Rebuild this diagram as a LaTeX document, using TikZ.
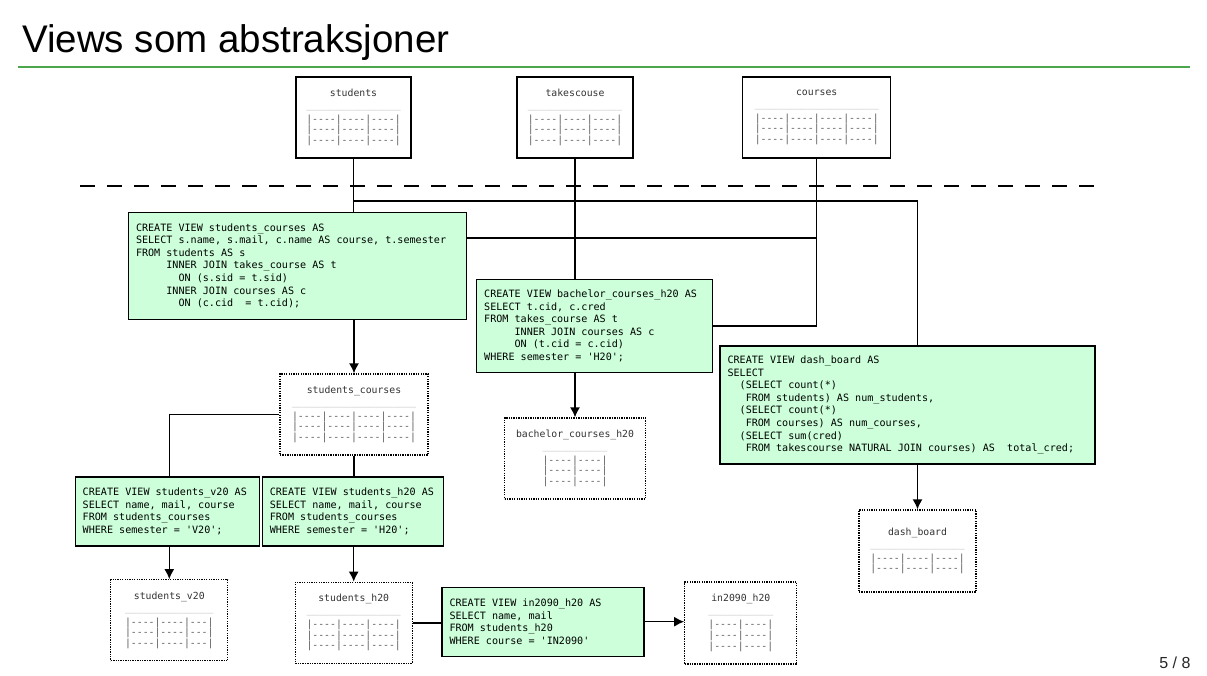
\documentclass[tikz,border=0pt]{standalone}
\usepackage{fontspec}
\setmainfont{Liberation Sans}
\setmonofont{DejaVu Sans Mono}
\usetikzlibrary{arrows.meta}
\definecolor{viewgreen}{HTML}{CCFFDA}
\definecolor{rulegreen}{HTML}{4CA64C}
\DeclareRobustCommand{\sqltext}{\ttfamily\fontsize{10.1}{12.6}\selectfont\spaceskip=0.6021em\xspaceskip=0.6021em\relax}

\begin{document}
\begin{tikzpicture}[x=1pt,y=-1pt,
  basetab/.style={draw,line width=1.3pt,fill=white,align=center,text=black!65,
    font=\ttfamily\fontsize{9.8}{10.7}\selectfont,inner sep=0pt},
  viewtab/.style={basetab,dash pattern=on 1.3pt off 1.1pt},
  sqlbox/.style={draw,line width=1.3pt,fill=viewgreen,align=flush left,inner xsep=7.5pt,
    font=\sqltext,execute at begin node={\spaceskip=0.6021em\xspaceskip=0.6021em\relax}},
  link/.style={line width=1.4pt},
  flow/.style={link,-{Latex[length=10pt,width=10pt]}}]
  \useasboundingbox (0,0) rectangle (1207,676);
  % title and page
  \node [anchor=base west,inner sep=0pt,font=\fontsize{38.5}{40}\selectfont] (title) at (22,52.3) {Views som abstraksjoner};
  \draw [rulegreen,line width=1.3pt] (18,67) -- (1190,67);
  \node [anchor=base east,inner sep=0pt,text=black!85,font=\fontsize{16}{18}\selectfont] (pageno) at (1190.7,668) {5 / 8};
  % base tables
  \node [basetab,minimum width=115pt,minimum height=81pt] (students) at (353.5,117.5)
    {{\color{black!80}students}\\[1.1pt]
     {\color{black!30}\_\_\_\_\_\_\_\_\_\_\_\_\_\_\_\_}\\[3.3pt]
     |----|----|----|\\|----|----|----|\\|----|----|----|};
  \node [basetab,minimum width=116pt,minimum height=81pt] (takescouse) at (575,117.5)
    {{\color{black!80}takescouse}\\[1.1pt]
     {\color{black!30}\_\_\_\_\_\_\_\_\_\_\_\_\_\_\_\_}\\[3.3pt]
     |----|----|----|\\|----|----|----|\\|----|----|----|};
  \node [basetab,minimum width=148pt,minimum height=81pt] (courses) at (816.7,117.5)
    {{\color{black!80}courses}\\[1.1pt]
     {\color{black!30}\_\_\_\_\_\_\_\_\_\_\_\_\_\_\_\_\_\_\_\_\_}\\[3.3pt]
     |----|----|----|----|\\|----|----|----|----|\\|----|----|----|----|};
  \draw [line width=1.4pt,dash pattern=on 15pt off 12pt] (80,186) -- (1105,186);
  \coordinate (upbus) at (0,201);
  \coordinate (midbus) at (0,238);
  % views
  \node [sqlbox,text width=323pt,minimum height=107pt] (scview) at (297.5,265.8)
    {CREATE VIEW students\_courses AS\\
     SELECT s.name, s.mail, c.name AS course, t.semester\\
     FROM students AS s\\
     \hphantom{00000}INNER JOIN takes\_course AS t\\
     \hphantom{0000000}ON (s.sid = t.sid)\\
     \hphantom{00000}INNER JOIN courses AS c\\
     \hphantom{0000000}ON (c.cid\ \ = t.cid);};
  \node [sqlbox,text width=221pt,minimum height=93pt] (bachview) at (594.7,325.8)
    {CREATE VIEW bachelor\_courses\_h20 AS\\
     SELECT t.cid, c.cred\\
     FROM takes\_course AS t\\
     \hphantom{00000}INNER JOIN courses AS c\\
     \hphantom{00000}ON (t.cid = c.cid)\\
     WHERE semester = 'H20';};
  \node [sqlbox,text width=360pt,minimum height=118pt] (dashview) at (907.5,404.9)
    {CREATE VIEW dash\_board AS\\
     SELECT\\
     \hphantom{00}(SELECT count(*)\\
     \hphantom{000}FROM students) AS num\_students,\\
     \hphantom{00}(SELECT count(*)\\
     \hphantom{000}FROM courses) AS num\_courses,\\
     \hphantom{00}(SELECT sum(cred)\\
     \hphantom{000}FROM takescourse NATURAL JOIN courses) AS\ \ total\_cred;};
  \node [sqlbox,text width=169pt,minimum height=69pt] (v20view) at (167.2,511.4)
    {CREATE VIEW students\_v20 AS\\
     SELECT name, mail, course\\
     FROM students\_courses\\
     WHERE semester = 'V20';};
  \node [sqlbox,text width=166pt,minimum height=69pt] (h20view) at (352.8,511.4)
    {CREATE VIEW students\_h20 AS\\
     SELECT name, mail, course\\
     FROM students\_courses\\
     WHERE semester = 'H20';};
  \node [sqlbox,text width=187pt,minimum height=69pt] (inview) at (543,621.7)
    {CREATE VIEW in2090\_h20 AS\\
     SELECT name, mail\\
     FROM students\_h20\\
     WHERE course = 'IN2090'};
  % view tables
  \node [viewtab,minimum width=148pt,minimum height=81pt] (sctab) at (354,414.5)
    {{\color{black!80}students\_courses}\\[1.1pt]
     {\color{black!30}\_\_\_\_\_\_\_\_\_\_\_\_\_\_\_\_\_\_\_\_\_}\\[3.3pt]
     |----|----|----|----|\\|----|----|----|----|\\|----|----|----|----|};
  \node [viewtab,minimum width=141pt,minimum height=81pt] (bachtab) at (575,458.5)
    {{\color{black!80}bachelor\_courses\_h20}\\[1.1pt]
     {\color{black!30}\_\_\_\_\_\_\_\_\_\_\_}\\[3.3pt]
     |----|----|\\|----|----|\\|----|----|};
  \node [viewtab,minimum width=117pt,minimum height=82pt] (dashtab) at (917.5,551)
    {{\color{black!80}dash\_board}\\[1.1pt]
     {\color{black!30}\_\_\_\_\_\_\_\_\_\_\_\_\_\_\_\_}\\[3.3pt]
     |----|----|----|\\|----|----|----|};
  \node [viewtab,minimum width=117pt,minimum height=81pt] (v20tab) at (169.3,620.3)
    {{\color{black!80}students\_v20}\\[1.1pt]
     {\color{black!30}\_\_\_\_\_\_\_\_\_\_\_\_\_\_\_}\\[3.3pt]
     |----|----|---|\\|----|----|---|\\|----|----|---|};
  \node [viewtab,minimum width=117pt,minimum height=81pt] (h20tab) at (353.7,622.8)
    {{\color{black!80}students\_h20}\\[1.1pt]
     {\color{black!30}\_\_\_\_\_\_\_\_\_\_\_\_\_\_\_\_}\\[3.3pt]
     |----|----|----|\\|----|----|----|\\|----|----|----|};
  \node [viewtab,minimum width=112pt,minimum height=82pt] (intab) at (740.8,623)
    {{\color{black!80}in2090\_h20}\\[1.1pt]
     {\color{black!30}\_\_\_\_\_\_\_\_\_\_\_}\\[3.3pt]
     |----|----|\\|----|----|\\|----|----|};
  % connectors
  \draw [link] (students.south) -- (students.south |- scview.north);
  \draw [link] (students.south) |- (dashtab.north |- upbus) -- (dashtab.north |- dashview.north);
  \draw [link] (takescouse.south) -- (takescouse.south |- bachview.north);
  \draw [link] (courses.south) |- (bachview.east);
  \draw [link] (scview.east |- midbus) -- (courses.south |- midbus);
  \draw [flow] (sctab.north |- scview.south) -- (sctab.north);
  \draw [flow] (bachtab.north |- bachview.south) -- (bachtab.north);
  \draw [flow] (dashtab.north |- dashview.south) -- (dashtab.north);
  \draw [link] (sctab.west) -| (v20tab.north |- v20view.north);
  \draw [link] (sctab.south) -- (sctab.south |- h20view.north);
  \draw [flow] (v20tab.north |- v20view.south) -- (v20tab.north);
  \draw [flow] (h20tab.north |- h20view.south) -- (h20tab.north);
  \draw [link] (h20tab.east) -- (h20tab.east -| inview.west);
  \draw [flow] (inview.east) -- (inview.east -| intab.west);
\end{tikzpicture}
\end{document}
